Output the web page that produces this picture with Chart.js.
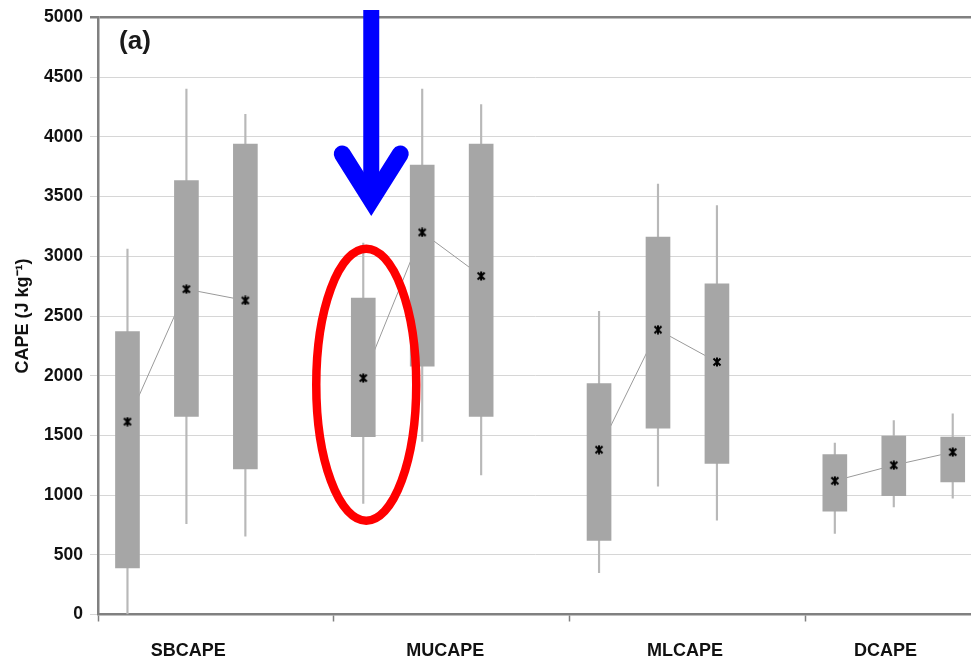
<!DOCTYPE html>
<html>
<head>
<meta charset="utf-8">
<script src="https://cdn.jsdelivr.net/npm/chart.js@4.4.0/dist/chart.umd.min.js"></script>
<style>
  html, body { margin: 0; padding: 0; background: #fff; overflow: hidden; }
  #chart { display: block; }
</style>
</head>
<body>
<canvas id="chart" width="971" height="658"></canvas>
<script>
// values (three boxes per CAPE type)
const categories = ['SBCAPE', 'MUCAPE', 'MLCAPE', 'DCAPE']
const whiskerLow  = [0, 760, 655,   930, 1450, 1170,   350, 1075, 790,   680, 900, 975]
const boxLow      = [390, 1660, 1220,   1490, 2080, 1660,   620, 1560, 1265,   865, 995, 1110]
const meanValues  = [1615, 2725, 2630,   1980, 3200, 2835,   1380, 2385, 2115,   1120, 1250, 1360]
const boxHigh     = [2370, 3635, 3940,   2650, 3765, 3940,   1935, 3160, 2770,   1340, 1495, 1485]
const whiskerHigh = [3060, 4400, 4190,   3110, 4400, 4270,   2540, 3605, 3425,   1435, 1625, 1680]
const yMin = 0, yMax = 5000, yStep = 500

// each category band holds 4 slots, 3 of them used
const slotsPerCat = 4
const boxesPerCat = 3
const labelOffsets = [1.53, 1.89, 1.96, 1.36]   // where the category name sits in its band
const visibleSlots = 14.81                       // plot is cut off at the right edge

const FONT = '"Liberation Sans", Arial, Helvetica, sans-serif'
const AXIS = '#808080'

const slotX = i => Math.floor(i / boxesPerCat) * slotsPerCat + (i % boxesPerCat) + 0.5

const whiskerData = whiskerLow.map((v, i) => ({ x: slotX(i), y: [v, whiskerHigh[i]] }))
const boxData = boxLow.map((v, i) => ({ x: slotX(i), y: [v, boxHigh[i]] }))
const meanData = meanValues.map((v, i) => ({ x: slotX(i), y: v }))
const meanLineData = []
meanValues.forEach((v, i) => {
  meanLineData.push({ x: slotX(i), y: v })
  if (i % boxesPerCat === boxesPerCat - 1) meanLineData.push({ x: slotX(i) + 1, y: null })
})

const boundaryTicks = categories.map((c, i) => i * slotsPerCat)
const labelTicks = categories.map((c, i) => i * slotsPerCat + labelOffsets[i])

// asterisk-like marker used for the means
const marker = document.createElement('canvas')
marker.width = 10; marker.height = 10
{
  const m = marker.getContext('2d')
  m.strokeStyle = '#000'
  m.lineWidth = 2
  m.beginPath()
  m.moveTo(1.5, 1.5); m.lineTo(8.5, 8.5)
  m.moveTo(8.5, 1.5); m.lineTo(1.5, 8.5)
  m.moveTo(5, 0.5); m.lineTo(5, 9.5)
  m.stroke()
}

const decorations = {
  id: 'decorations',
  afterDraw(chart) {
    const ctx = chart.ctx
    const xs = chart.scales.x, ys = chart.scales.y
    ctx.save()
    // panel letter
    ctx.fillStyle = '#1a1a1a'
    ctx.font = 'bold 26px ' + FONT
    ctx.textAlign = 'center'
    ctx.textBaseline = 'middle'
    ctx.fillText('(a)', 135, 42)

    // red ellipse around first MUCAPE box
    const cx = xs.getPixelForValue(slotX(3)) + 3
    const cy = ys.getPixelForValue(1925)
    ctx.strokeStyle = '#ff0000'
    ctx.lineWidth = 8.5
    ctx.beginPath()
    ctx.ellipse(cx, cy, 50, 136, 0, 0, Math.PI * 2)
    ctx.stroke()

    // blue arrow pointing down at it
    const ax = cx + 5
    ctx.strokeStyle = '#0000ff'
    ctx.lineWidth = 16
    ctx.lineCap = 'butt'
    ctx.beginPath()
    ctx.moveTo(ax, 10); ctx.lineTo(ax, 200)
    ctx.stroke()
    ctx.lineWidth = 17
    ctx.lineCap = 'round'
    ctx.lineJoin = 'miter'
    ctx.miterLimit = 10
    ctx.beginPath()
    ctx.moveTo(ax - 29, 154); ctx.lineTo(ax, 200); ctx.lineTo(ax + 29, 154)
    ctx.stroke()
    ctx.restore()
  }
}

new Chart(document.getElementById('chart'), {
  type: 'bar',
  data: {
    datasets: [
      {
        type: 'line',
        data: meanData,
        showLine: false,
        pointStyle: marker,
        pointRadius: 5,
        order: 0
      },
      {
        data: boxData,
        backgroundColor: '#a6a6a6',
        borderWidth: 0,
        barThickness: 24,
        grouped: false,
        order: 1
      },
      {
        type: 'line',
        data: meanLineData,
        borderColor: '#9a9a9a',
        borderWidth: 1,
        pointRadius: 0,
        spanGaps: false,
        order: 2
      },
      {
        data: whiskerData,
        backgroundColor: '#b8b8b8',
        borderWidth: 0,
        barThickness: 1.5,
        grouped: false,
        order: 3
      }
    ]
  },
  options: {
    responsive: false,
    animation: false,
    // the plot runs off the right edge in the original, so no auto margins
    layout: { autoPadding: false, padding: { top: 17.5, left: 0, right: 0, bottom: 0 } },
    plugins: {
      legend: { display: false },
      tooltip: { enabled: false }
    },
    scales: {
      x: {
        type: 'linear',
        min: 0,
        max: visibleSlots,
        offset: false,
        afterFit: s => { s.height = 43.5 },
        afterBuildTicks: s => {
          s.ticks = boundaryTicks.concat(labelTicks)
            .sort((a, b) => a - b)
            .map(v => ({ value: v }))
        },
        border: { color: AXIS, width: 2.5 },
        grid: {
          drawOnChartArea: false,
          offset: false,
          tickLength: 7,
          tickWidth: 1.5,
          tickColor: ctx => boundaryTicks.includes(ctx.tick && ctx.tick.value) ? AXIS : 'rgba(0,0,0,0)'
        },
        ticks: {
          autoSkip: false,
          maxRotation: 0,
          padding: 19,
          color: '#111',
          font: { family: FONT, size: 18, weight: 'bold' },
          callback: v => {
            const i = labelTicks.indexOf(v)
            return i >= 0 ? categories[i] : ''
          }
        }
      },
      y: {
        min: yMin,
        max: yMax,
        afterFit: s => { s.width = 98 },
        border: { color: AXIS, width: 2.5 },
        grid: {
          color: ctx => ctx.tick && ctx.tick.value === yMax ? AXIS : '#d6d6d6',
          lineWidth: ctx => ctx.tick && ctx.tick.value === yMax ? 2.5 : 1,
          tickLength: 8
        },
        ticks: {
          stepSize: yStep,
          padding: 7,
          color: '#111',
          font: { family: FONT, size: 17.5, weight: 'bold' },
          callback: v => String(v)
        },
        title: {
          display: true,
          text: 'CAPE (J kg⁻¹)',
          color: '#111',
          padding: { top: 12, bottom: 0 },
          font: { family: FONT, size: 18, weight: 'bold' }
        }
      }
    }
  },
  plugins: [decorations]
})
</script>
</body>
</html>
